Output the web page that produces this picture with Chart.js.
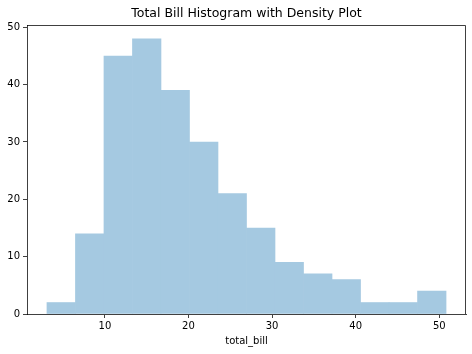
<!DOCTYPE html>
<html>
<head>
<meta charset="utf-8">
<script src="https://cdn.jsdelivr.net/npm/chart.js@4/dist/chart.umd.min.js"></script>
<style>
  html, body { margin: 0; padding: 0; background: #fff; }
</style>
</head>
<body>
<canvas id="histChart" width="472" height="354"></canvas>
<script>
// histogram of total_bill (14 bins)
const binEdges = [3.07, 6.48, 9.89, 13.30, 16.71, 20.12, 23.53, 26.94, 30.35, 33.76, 37.17, 40.58, 43.99, 47.40, 50.81];
const counts = [2, 14, 45, 48, 39, 30, 21, 15, 9, 7, 6, 2, 2, 4];
const xTicks = [10, 20, 30, 40, 50];
const yTicks = [0, 10, 20, 30, 40, 50];
const chartTitle = 'Total Bill Histogram with Density Plot';

const points = counts.map(function(c, i) {
    return { x: (binEdges[i] + binEdges[i + 1]) / 2, y: c };
});

const span = binEdges[binEdges.length - 1] - binEdges[0];
const xMin = binEdges[0] - span * 0.05;
const xMax = binEdges[binEdges.length - 1] + span * 0.05;
const yMax = Math.max.apply(null, counts) * 1.05;

const font = { family: 'DejaVu Sans', size: 10 };

// top/right spines + title centred over the axes (like matplotlib)
const frame = {
    id: 'frame',
    afterDraw: function(chart) {
        const a = chart.chartArea;
        const c = chart.ctx;
        c.save();
        c.strokeStyle = 'rgba(0,0,0,0.75)';
        c.lineWidth = 1;
        c.beginPath();
        c.moveTo(a.left, a.top + 0.5);
        c.lineTo(a.right - 0.5, a.top + 0.5);
        c.lineTo(a.right - 0.5, a.bottom);
        c.stroke();
        c.fillStyle = '#000';
        c.font = '12.5px "DejaVu Sans"';
        c.textAlign = 'center';
        c.textBaseline = 'middle';
        c.fillText(chartTitle, (a.left + a.right) / 2, 14);
        c.restore();
    }
};

new Chart(document.getElementById('histChart').getContext('2d'), {
    type: 'bar',
    data: {
        datasets: [{
            data: points,
            backgroundColor: 'rgb(165,201,225)',
            borderWidth: 0,
            barPercentage: 1,
            categoryPercentage: 1
        }]
    },
    options: {
        responsive: false,
        animation: false,
        layout: { padding: { left: 0, right: 6, top: 25, bottom: 0 } },
        plugins: {
            legend: { display: false },
            tooltip: { enabled: false },
            title: { display: false }
        },
        scales: {
            x: {
                type: 'linear',
                offset: false,
                min: xMin,
                max: xMax,
                afterBuildTicks: function(s) {
                    s.ticks = xTicks.map(function(v) { return { value: v }; });
                },
                afterFit: function(s) { s.height = 40; },
                ticks: { color: '#000', font: font, padding: 2, maxRotation: 0 },
                grid: { offset: false, drawOnChartArea: false, tickLength: 4, tickColor: 'rgba(0,0,0,0.75)' },
                border: { display: true, color: 'rgba(0,0,0,0.75)', width: 1 },
                title: {
                    display: true,
                    text: 'total_bill',
                    color: '#000',
                    font: font,
                    padding: { top: 2, bottom: 7 }
                }
            },
            y: {
                min: 0,
                max: yMax,
                afterBuildTicks: function(s) {
                    s.ticks = yTicks.map(function(v) { return { value: v }; });
                },
                afterFit: function(s) { s.width = 27; },
                ticks: { color: '#000', font: font, padding: 3 },
                grid: { drawOnChartArea: false, tickLength: 4, tickColor: 'rgba(0,0,0,0.75)' },
                border: { display: true, color: 'rgba(0,0,0,0.75)', width: 1 }
            }
        }
    },
    plugins: [frame]
});
</script>
</body>
</html>
